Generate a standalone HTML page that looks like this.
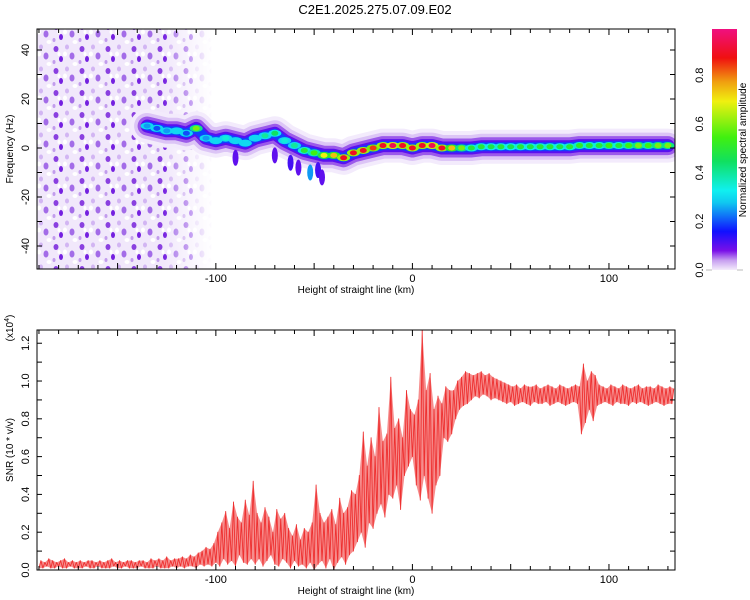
<!DOCTYPE html>
<html><head><meta charset="utf-8"><style>
body{margin:0;background:#fff;}
svg{display:block;font-family:"Liberation Sans",sans-serif;}
</style></head><body>
<svg id="chart" width="750" height="600" viewBox="0 0 750 600">
<defs>
<linearGradient id="cmap" x1="0" y1="1" x2="0" y2="0">
<stop offset="0" stop-color="#f4ecfb"/><stop offset="0.04" stop-color="#c79ff0"/><stop offset="0.08" stop-color="#7a10e8"/>
<stop offset="0.16" stop-color="#1010ff"/><stop offset="0.28" stop-color="#10c8f0"/><stop offset="0.33" stop-color="#10f0f0"/>
<stop offset="0.45" stop-color="#10e060"/><stop offset="0.55" stop-color="#40f010"/><stop offset="0.7" stop-color="#f0f010"/>
<stop offset="0.78" stop-color="#f0a010"/><stop offset="0.88" stop-color="#f01010"/><stop offset="1" stop-color="#f01080"/>
</linearGradient>
<pattern id="noise" width="26" height="22" patternUnits="userSpaceOnUse">
<rect width="26" height="22" fill="#f1e8fb"/>
<ellipse cx="4" cy="5" rx="2.5" ry="3" fill="#8a40e0"/><ellipse cx="15" cy="3" rx="2" ry="2.5" fill="#d2b5f3"/>
<ellipse cx="20" cy="12" rx="2.5" ry="3.5" fill="#a36ce8"/><ellipse cx="9" cy="15" rx="2" ry="3" fill="#7420e0"/>
<ellipse cx="2" cy="18" rx="1.5" ry="2" fill="#c29ced"/><ellipse cx="13" cy="10" rx="2" ry="2.5" fill="#fff"/>
<ellipse cx="23" cy="20" rx="2.5" ry="2" fill="#fff"/><ellipse cx="7" cy="10" rx="1.5" ry="2" fill="#fff"/>
</pattern>
<linearGradient id="fade" x1="0" y1="0" x2="1" y2="0">
<stop offset="0" stop-color="#fff"/><stop offset="0.72" stop-color="#fff"/><stop offset="1" stop-color="#000"/>
</linearGradient>
<mask id="fadeMask"><rect x="37" y="29" width="175" height="240" fill="url(#fade)"/></mask>
<clipPath id="clipTop"><rect x="37" y="29" width="638" height="240"/></clipPath>
<clipPath id="clipBot"><rect x="37" y="330" width="638" height="240"/></clipPath>
</defs>
<text x="375" y="14" font-size="13" text-anchor="middle">C2E1.2025.275.07.09.E02</text>
<g id="topPanel"></g>
<g id="botPanel"></g>
<g id="cbar"></g>
</svg>
<script>
// ---- data ----
const ridgeH = [-135,-130,-125,-120,-115,-110,-105,-100,-95,-90,-85,-80,-75,-70,-65,-60,-55,-50,-45,-40,-35,-30,-25,-20,-15,-10,-5,0,5,10,15,20,25,30,35,40,45,50,55,60,65,70,75,80,85,90,95,100,105,110,115,120,125,130];
const ridgeF = [9,8,7,7,6,8,4,3,4,3,2,4,5,6,3,1,-1,-2,-3,-3,-4,-2,-1,0,1,1,1,0,1,1,0,0,0,0,0.5,0.5,0.5,0.5,0.5,0.5,0.5,0.5,0.5,0.5,1,1,1,1,1,1,1,1,1,1];
const ridgeA = [0.25,0.2,0.25,0.3,0.2,0.6,0.25,0.3,0.35,0.3,0.3,0.3,0.4,0.45,0.35,0.4,0.5,0.55,0.7,0.75,0.9,0.9,0.9,0.85,0.9,0.95,0.9,0.9,0.9,0.95,0.9,0.75,0.6,0.5,0.5,0.48,0.5,0.47,0.5,0.48,0.5,0.5,0.48,0.5,0.52,0.5,0.5,0.55,0.5,0.55,0.6,0.55,0.6,0.6];
const blobH = [-62,-58,-52,-48,-46,-70,-90];
const blobF = [-6,-8,-10,-9,-12,-3,-4];
const blobA = [0.12,0.1,0.25,0.12,0.1,0.1,0.1];
const snrX0 = -190, snrStep = 2;
const snrLo = [0.01,0.01,0.02,0.01,0.01,0.02,0.01,0.01,0.02,0.01,0.01,0.01,0.02,0.01,0.01,0.02,0.01,0.01,0.01,0.02,0.01,0.01,0.02,0.01,0.01,0.01,0.02,0.01,0.01,0.01,0.02,0.01,0.01,0.01,0.02,
0.01,0.02,0.01,0.02,0.02,0.01,0.03,0.02,0.03,0.02,
0.04,0.02,0.06,0.03,0.05,0.02,0.08,0.04,0.03,0.06,
0.03,0.06,0.02,0.05,0.08,0.03,0.02,0.06,0.04,0.01,0.05,0.02,0.03,0.01,0.04,
0.00,0.03,0.05,0.01,0.06,0.00,0.04,0.07,0.03,0.08,
0.10,0.15,0.20,0.12,0.25,
0.22,0.30,0.35,0.28,0.40,0.38,0.45,0.32,0.50,0.55,
0.60,0.45,0.37,0.50,0.38,0.30,0.45,0.50,0.70,0.68,
0.72,0.80,0.85,0.87,0.88,
0.90,0.92,0.91,0.93,0.92,0.90,0.91,0.90,0.89,
0.88,0.89,0.87,0.88,0.89,0.88,0.87,0.89,0.88,0.88,0.89,0.87,0.88,0.89,0.88,0.87,0.88,0.89,0.88,
0.72,0.78,0.85,0.79,0.87,
0.88,0.89,0.88,0.87,0.89,0.88,0.88,0.87,0.89,0.88,0.89,0.88,0.87,0.88,0.89,0.88,0.87,0.88,0.88];
const snrHi = [0.05,0.04,0.06,0.05,0.04,0.05,0.06,0.04,0.05,0.04,0.05,0.04,0.05,0.05,0.04,0.05,0.04,0.05,0.06,0.04,0.05,0.04,0.05,0.05,0.04,0.05,0.05,0.04,0.06,0.05,0.06,0.05,0.07,0.05,0.06,
0.06,0.07,0.06,0.08,0.07,0.09,0.10,0.12,0.11,0.14,
0.20,0.25,0.31,0.22,0.36,0.28,0.25,0.37,0.29,0.47,
0.30,0.25,0.33,0.28,0.20,0.32,0.27,0.30,0.22,0.18,0.24,0.16,0.22,0.20,0.25,
0.45,0.30,0.25,0.28,0.32,0.24,0.38,0.30,0.33,0.42,
0.40,0.50,0.73,0.55,0.70,
0.60,0.86,0.68,0.72,1.02,0.75,0.80,0.70,0.95,0.85,
0.82,0.90,1.27,0.95,1.04,0.85,0.92,0.88,0.97,0.95,
0.95,1.00,1.02,1.05,1.04,
1.03,1.04,1.05,1.03,1.04,1.02,1.01,1.00,0.99,
0.98,0.97,0.98,0.96,0.98,0.97,0.97,0.98,0.96,0.97,0.98,0.97,0.96,0.98,0.97,0.96,0.97,0.98,0.97,
1.09,1.00,1.05,1.03,0.98,
0.97,0.96,0.98,0.97,0.96,0.98,0.97,0.96,0.97,0.98,0.96,0.97,0.97,0.96,0.98,0.97,0.96,0.97,0.96];
const xTicks = [-100,0,100];
const fTicks = [-40,-20,0,20,40];
const snrTicks = [0.0,0.2,0.4,0.6,0.8,1.0,1.2];
const cTicks = [0.0,0.2,0.4,0.6,0.8];

// ---- axes ----
const L=37,R=675,XMIN=-191,XMAX=133.6;
const xs = v => L+(v-XMIN)/(XMAX-XMIN)*(R-L);
const yF = v => 148-(v*2.45);
const yS = v => 570-v*(240/1.27);
const yC = v => 270-v*(241/0.99);
const NS="http://www.w3.org/2000/svg";
function mk(tag,attrs,parent){const e=document.createElementNS(NS,tag);for(const k in attrs)e.setAttribute(k,attrs[k]);parent.appendChild(e);return e;}
const stops=[[0,[244,236,251]],[0.04,[199,159,240]],[0.08,[122,16,232]],[0.16,[16,16,255]],[0.28,[16,200,240]],[0.33,[16,240,240]],[0.45,[16,224,96]],[0.55,[64,240,16]],[0.7,[240,240,16]],[0.78,[240,160,16]],[0.88,[240,16,16]],[1,[240,16,128]]];
function cm(v){for(let i=1;i<stops.length;i++){if(v<=stops[i][0]){const a=stops[i-1],b=stops[i],t=(v-a[0])/(b[0]-a[0]);return 'rgb('+a[1].map((c,j)=>Math.round(c+(b[1][j]-c)*t)).join(',')+')';}}return 'rgb(240,16,128)';}

const topG=document.getElementById('topPanel');
const gTopData=mk('g',{'clip-path':'url(#clipTop)'},topG);


const nz=mk('rect',{x:37,y:29,width:175,height:240,fill:'url(#noise)',mask:'url(#fadeMask)'},gTopData);


let rp='';
ridgeH.forEach((h,i)=>{rp+=(i?'L':'M')+xs(h).toFixed(1)+','+yF(ridgeF[i]).toFixed(1);});
[[34,'#f3ebfc'],[26,'#dcc5f6'],[19,'#9c5aea'],[13,'#5a10f0'],[9,'#1040ff']].forEach(([w,c])=>{
  const p=mk('path',{d:rp,fill:'none',stroke:c,'stroke-width':w,'stroke-linecap':'round','stroke-linejoin':'round'},gTopData);
  
  
});
ridgeH.forEach((h,i)=>{
  const e=mk('ellipse',{cx:xs(h),cy:yF(ridgeF[i]),rx:6.5,ry:3.5,fill:cm(Math.max(0.3,ridgeA[i]*0.7))},gTopData);
  
  
});
ridgeH.forEach((h,i)=>{
  const e=mk('ellipse',{cx:xs(h),cy:yF(ridgeF[i]),rx:3.5,ry:2.5,fill:cm(ridgeA[i])},gTopData);
  
  
});
blobH.forEach((h,i)=>{
  const e=mk('ellipse',{cx:xs(h),cy:yF(blobF[i]),rx:3,ry:8,fill:cm(blobA[i])},gTopData);
  
  
});

function frame(g,y0,y1,yTicksMajor,yfun,yMinorStep,yMin,yMax,labels,name){
  const f=mk('rect',{x:L,y:y0,width:R-L,height:y1-y0,fill:'none',stroke:'#000','stroke-width':1},g);
  
  
  for(let v=-190;v<=130;v+=10){const x=xs(v),len=(v%50===0)?6:4;
    mk('line',{x1:x,y1:y0,x2:x,y2:y0+len,stroke:'#000'},g);mk('line',{x1:x,y1:y1,x2:x,y2:y1-len,stroke:'#000'},g);}
  xTicks.forEach(v=>{const t=mk('text',{x:xs(v),y:y1+13,'font-size':11,'text-anchor':'middle'},g);t.textContent=v;
    
    });
  const xl=mk('text',{x:356,y:y1+24,'font-size':10,'text-anchor':'middle'},g);xl.textContent='Height of straight line (km)';
  
  
  for(let v=yMin;v<=yMax+1e-9;v+=yMinorStep){const y=yfun(v);if(y<y0-0.5||y>y1+0.5)continue;
    mk('line',{x1:L,y1:y,x2:L+5,y2:y,stroke:'#000'},g);mk('line',{x1:R,y1:y,x2:R-5,y2:y,stroke:'#000'},g);}
  yTicksMajor.forEach(v=>{const y=yfun(v);const t=mk('text',{x:0,y:0,'font-size':11,'text-anchor':'middle',transform:`translate(29,${y}) rotate(-90)`},g);
    t.textContent=labels(v);
    
    });
}
frame(topG,29,269,fTicks,yF,10,-40,40,v=>v,'spectrogram');
const yl=mk('text',{x:0,y:0,'font-size':10,'text-anchor':'middle',transform:'translate(13,149) rotate(-90)'},topG);
yl.textContent='Frequency (Hz)';



const botG=document.getElementById('botPanel');
const gB=mk('g',{'clip-path':'url(#clipBot)'},botG);
let d='', up='', dn='';
snrLo.forEach((lo,i)=>{const x=snrX0+i*snrStep;
  d+=(i?'L':'M')+xs(x).toFixed(1)+','+yS(lo).toFixed(1)+'L'+xs(x+snrStep/2).toFixed(1)+','+yS(snrHi[i]).toFixed(1);
  up+=(i?'L':'M')+xs(x+snrStep/2).toFixed(1)+','+yS(snrHi[i]).toFixed(1);
});
for(let i=snrLo.length-1;i>=0;i--){dn+='L'+xs(snrX0+i*snrStep).toFixed(1)+','+yS(snrLo[i]).toFixed(1);}
const env=mk('path',{d:up+dn+'Z',fill:'#ee3030','fill-opacity':0.55,stroke:'none'},gB);


const ln=mk('path',{d:d,fill:'none',stroke:'#ee3030','stroke-width':0.9,'stroke-linejoin':'round'},gB);


frame(botG,330,570,snrTicks,yS,0.1,0,1.2,v=>v.toFixed(1),'snr');
const yl2=mk('text',{x:0,y:0,'font-size':10,'text-anchor':'middle',transform:'translate(13,450) rotate(-90)'},botG);
yl2.textContent='SNR (10 * v/v)';


const ex=mk('text',{x:0,y:0,'font-size':10,'text-anchor':'middle',transform:'translate(13,328) rotate(-90)'},botG);
ex.textContent='(x10';
const sup=mk('tspan',{'font-size':7,dy:-4},ex);sup.textContent='4';
const cl=mk('tspan',{dy:4},ex);cl.textContent=')';



const cb=document.getElementById('cbar');
const cr=mk('rect',{x:712,y:29,width:25,height:241,fill:'url(#cmap)'},cb);


mk('line',{x1:706,y1:270,x2:712,y2:270,stroke:'#bbb'},cb);mk('line',{x1:737,y1:270,x2:743,y2:270,stroke:'#bbb'},cb);
cTicks.forEach(v=>{const t=mk('text',{x:0,y:0,'font-size':11,'text-anchor':'middle',transform:`translate(703,${yC(v)}) rotate(-90)`},cb);
  t.textContent=v.toFixed(1);
  
  });
const ct=mk('text',{x:0,y:0,'font-size':10,'text-anchor':'middle',transform:'translate(746,150) rotate(-90)'},cb);
ct.textContent='Normalized spectral amplitude';


</script>
</body></html>
